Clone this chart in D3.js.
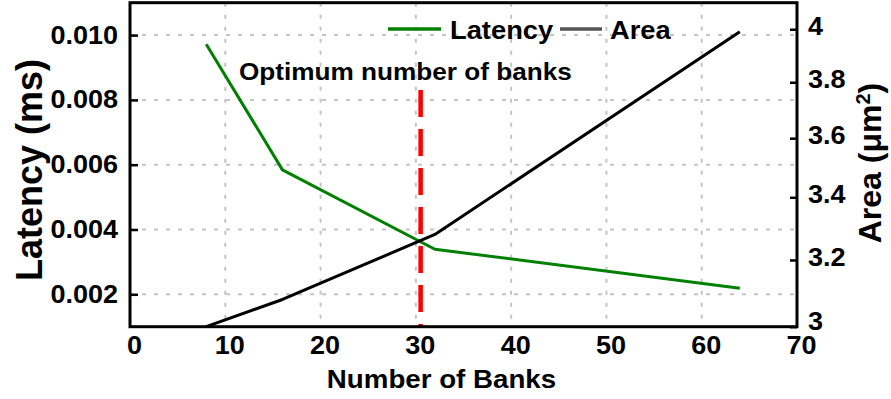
<!DOCTYPE html>
<html>
<head>
<meta charset="utf-8">
<script src="https://cdn.jsdelivr.net/npm/d3@7"></script>
<style>
  html, body { margin: 0; padding: 0; background: #fff; }
  svg text { font-family: "Liberation Sans", Arial, sans-serif; font-weight: bold; fill: #000; }
</style>
</head>
<body>
<svg id="chart" width="891" height="399"></svg>
<script>
// Bank count sweep: access latency (left axis) and macro area (right, log axis)
const banks = [8, 16, 32, 64];
const latency = [0.00972, 0.00584, 0.00339, 0.00219];
const area = [3.0, 3.08, 3.28, 3.99];
const xTicks = [0, 10, 20, 30, 40, 50, 60, 70];
const latencyTicks = [0.002, 0.004, 0.006, 0.008, 0.010];
const areaTicks = [3, 3.2, 3.4, 3.6, 3.8, 4];
const optimumBanks = 30.5;

const svg = d3.select("#chart");
const L = 130, R = 797, T = 2.7, B = 326.7;

const x = d3.scaleLinear().domain([0, 70]).range([L, R]);
const yLat = d3.scaleLinear().domain([0.001, 0.011]).range([B, T]);
const yArea = d3.scaleLog().domain([3, 4.104]).range([B, T]);

// widen horizontal labels slightly (wide bold face)
function widen(sel, k) {
  sel.each(function () {
    const len = this.getComputedTextLength();
    d3.select(this).attr("textLength", len * k).attr("lengthAdjust", "spacingAndGlyphs");
  });
}

// dashed grid
const grid = svg.append("g").attr("stroke", "#c4c4c4").attr("stroke-width", 2)
  .attr("stroke-dasharray", "4,8");
grid.selectAll("line.v").data(xTicks.filter(d => d > 0 && d < 70)).join("line")
  .attr("x1", d => x(d)).attr("x2", d => x(d)).attr("y1", T).attr("y2", B);
grid.selectAll("line.h").data(latencyTicks).join("line")
  .attr("x1", L).attr("x2", R).attr("y1", d => yLat(d)).attr("y2", d => yLat(d));

// optimum marker
svg.append("line")
  .attr("x1", x(optimumBanks)).attr("x2", x(optimumBanks))
  .attr("y1", 90).attr("y2", B)
  .attr("stroke", "#ff0000").attr("stroke-width", 4.5)
  .attr("stroke-dasharray", "27,12");

const pts = banks.map((b, i) => ({ b, lat: latency[i], area: area[i] }));

svg.append("path").datum(pts)
  .attr("fill", "none").attr("stroke", "#008000").attr("stroke-width", 3)
  .attr("stroke-linejoin", "round")
  .attr("d", d3.line().x(d => x(d.b)).y(d => yLat(d.lat)));

svg.append("path").datum(pts)
  .attr("fill", "none").attr("stroke", "#000").attr("stroke-width", 3)
  .attr("stroke-linejoin", "round")
  .attr("d", d3.line().x(d => x(d.b)).y(d => yArea(d.area)));

// axes
const gx = svg.append("g").attr("transform", `translate(0,${B})`)
  .call(d3.axisBottom(x).tickValues(xTicks).tickSize(0).tickPadding(10).tickFormat(d3.format("d")));
gx.selectAll("text").attr("dx", 4);

const gl = svg.append("g").attr("transform", `translate(${L},0)`)
  .call(d3.axisLeft(yLat).tickValues(latencyTicks).tickSizeInner(-8).tickSizeOuter(0).tickPadding(12)
    .tickFormat(d3.format(".3f")));

const gr = svg.append("g").attr("transform", `translate(${R},0)`)
  .call(d3.axisRight(yArea).tickValues(areaTicks).tickSizeInner(-7).tickSizeOuter(0).tickPadding(11)
    .tickFormat(d3.format("~g")));
gr.selectAll("text").attr("dy", d => d === 3 ? "0.1em" : "0.22em");

[gx, gl, gr].forEach(g => {
  g.select(".domain").remove();
  g.selectAll("line").attr("stroke", "#000").attr("stroke-width", 2.5);
  g.selectAll("text").style("font-size", "25px").style("font-family", null).attr("fill", "#000");
  widen(g.selectAll("text"), 1.08);
});

// frame
svg.append("rect").attr("x", L).attr("y", T).attr("width", R - L).attr("height", B - T)
  .attr("fill", "none").attr("stroke", "#000").attr("stroke-width", 3);

// axis titles
svg.append("text").attr("x", 441.5).attr("y", 388).attr("text-anchor", "middle")
  .style("font-size", "26px").text("Number of Banks")
  .call(widen, 1.065);

svg.append("text").attr("transform", "translate(42,170) rotate(-90)")
  .attr("text-anchor", "middle").style("font-size", "36px").text("Latency (ms)");

const at = svg.append("text").attr("transform", "translate(881,163) rotate(-90)")
  .attr("text-anchor", "middle").style("font-size", "32px");
at.append("tspan").text("Area (\u03bcm");
at.append("tspan").attr("baseline-shift", "super").style("font-size", "20px").text("2");
at.append("tspan").text(")");

// annotation
svg.append("text").attr("x", 239).attr("y", 80).style("font-size", "24px")
  .text("Optimum number of banks")
  .call(widen, 1.09);

// legend
const legend = [
  { name: "Latency", color: "#008000", x1: 388, x2: 441, tx: 450 },
  { name: "Area", color: "#555555", x1: 560, x2: 602, tx: 610 }
];
const lg = svg.append("g");
lg.selectAll("line").data(legend).join("line")
  .attr("x1", d => d.x1).attr("x2", d => d.x2).attr("y1", 29).attr("y2", 29)
  .attr("stroke", d => d.color).attr("stroke-width", 3.5);
lg.selectAll("text").data(legend).join("text")
  .attr("x", d => d.tx).attr("y", 39).style("font-size", "26px").text(d => d.name)
  .call(widen, 1.05);
</script>
</body>
</html>
